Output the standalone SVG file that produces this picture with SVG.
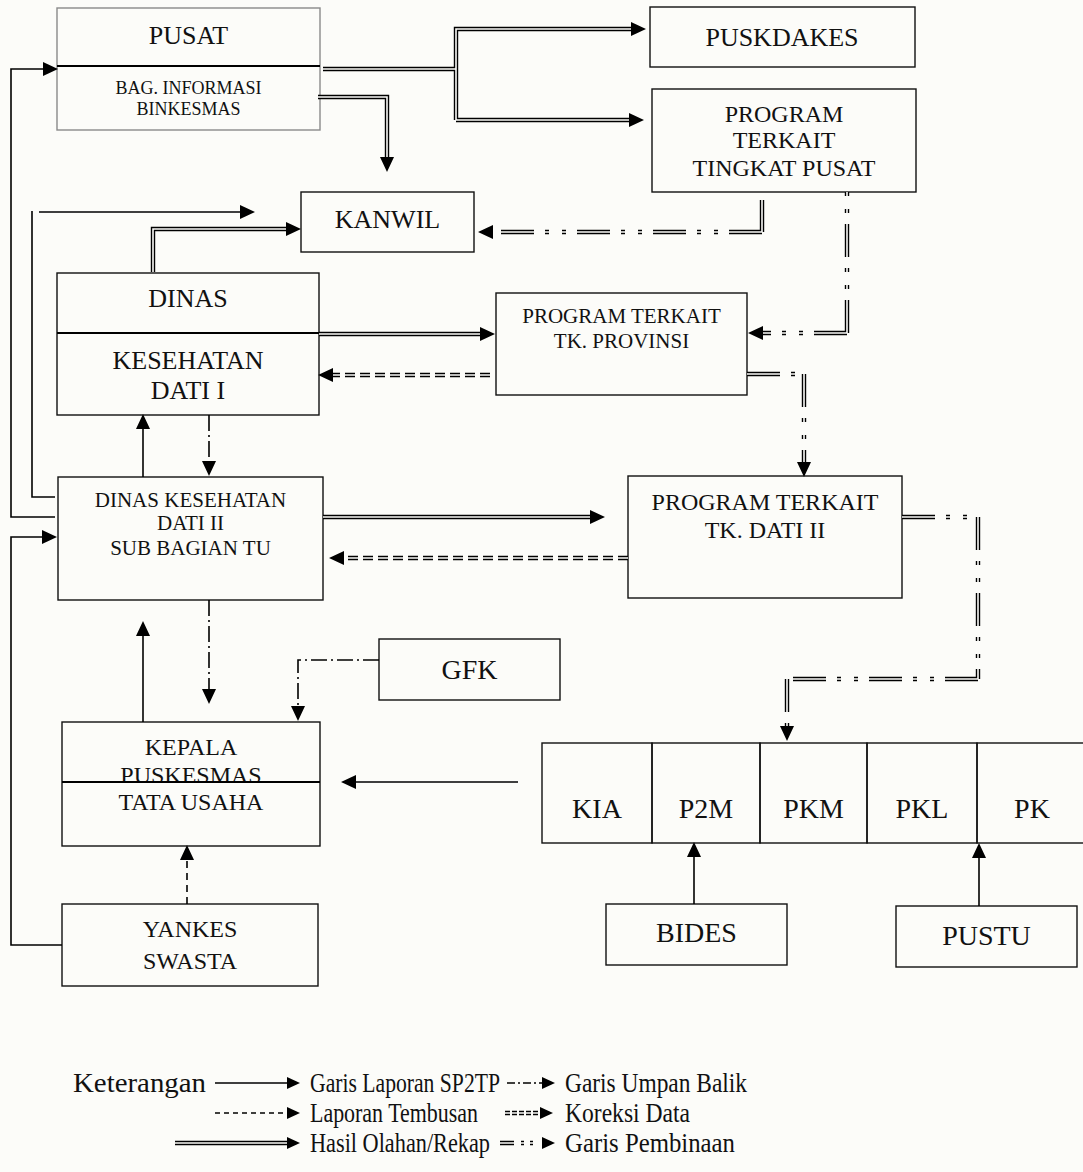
<svg xmlns="http://www.w3.org/2000/svg" width="1083" height="1172" viewBox="0 0 1083 1172">
<defs>
<style>
.bg{fill:#fcfcf9}
.box{fill:none;stroke:#111;stroke-width:1.4}
.gbox{fill:none;stroke:#8a8a8a;stroke-width:1.4}
.div{stroke:#000;stroke-width:1.8}
.t{font-family:"Liberation Serif","Times New Roman",serif;fill:#111;text-anchor:middle}
.lt{font-family:"Liberation Serif","Times New Roman",serif;fill:#111;font-size:27px}
.s{fill:none;stroke:#000;stroke-width:1.6}
.dd{fill:none;stroke:#000;stroke-width:1.6;stroke-dasharray:16 4 2 4}
.ds{fill:none;stroke:#000;stroke-width:1.6;stroke-dasharray:7 5}
.o{fill:none;stroke:#000;stroke-width:4.4;stroke-linejoin:miter}
.i{fill:none;stroke:#fcfcf9;stroke-width:1.6;stroke-linejoin:miter}
.kd{stroke-dasharray:10 5}
.pb{stroke-dasharray:33 11 4 13 4 11}
</style>
<marker id="ah" markerUnits="userSpaceOnUse" markerWidth="15" markerHeight="14" refX="0" refY="7" orient="auto" viewBox="0 0 15 14">
<path d="M0,0 L15,7 L0,14 z" fill="#000"/>
</marker>
<marker id="ahs" markerUnits="userSpaceOnUse" markerWidth="13" markerHeight="12" refX="0" refY="6" orient="auto" viewBox="0 0 13 12">
<path d="M0,0 L13,6 L0,12 z" fill="#000"/>
</marker>
</defs>
<rect class="bg" x="0" y="0" width="1083" height="1172"/>

<g id="pusat">
<rect class="gbox" x="57" y="8" width="263" height="122"/>
<line class="div" x1="57" y1="66" x2="320" y2="66"/>
<text class="t" x="188.5" y="44" font-size="26">PUSAT</text>
<text class="t" x="188.5" y="94" font-size="18">BAG. INFORMASI</text>
<text class="t" x="188.5" y="115" font-size="18">BINKESMAS</text>
</g>
<g id="puskdakes">
<rect class="box" x="650" y="7" width="265" height="60"/>
<text class="t" x="782" y="46" font-size="26">PUSKDAKES</text>
</g>
<g id="program-pusat">
<rect class="box" x="652" y="89" width="264" height="103"/>
<text class="t" x="784" y="122" font-size="24">PROGRAM</text>
<text class="t" x="784" y="148" font-size="24">TERKAIT</text>
<text class="t" x="784" y="176" font-size="24">TINGKAT PUSAT</text>
</g>
<g id="kanwil">
<rect class="box" x="301" y="192" width="173" height="60"/>
<text class="t" x="387.5" y="228" font-size="26">KANWIL</text>
</g>
<g id="dinas-dati1">
<rect class="box" x="57" y="273" width="262" height="142"/>
<line class="div" x1="57" y1="333" x2="319" y2="333"/>
<text class="t" x="188" y="307" font-size="26">DINAS</text>
<text class="t" x="188" y="369" font-size="26">KESEHATAN</text>
<text class="t" x="188" y="399" font-size="26">DATI I</text>
</g>
<g id="program-provinsi">
<rect class="box" x="496" y="293" width="251" height="102"/>
<text class="t" x="621.5" y="323" font-size="21">PROGRAM TERKAIT</text>
<text class="t" x="621.5" y="348" font-size="21">TK. PROVINSI</text>
</g>
<g id="dinas-dati2">
<rect class="box" x="58" y="477" width="265" height="123"/>
<text class="t" x="190.5" y="507" font-size="21">DINAS KESEHATAN</text>
<text class="t" x="190.5" y="530" font-size="21">DATI II</text>
<text class="t" x="190.5" y="555" font-size="21">SUB BAGIAN TU</text>
</g>
<g id="program-dati2">
<rect class="box" x="628" y="476" width="274" height="122"/>
<text class="t" x="765" y="510" font-size="24">PROGRAM TERKAIT</text>
<text class="t" x="765" y="538" font-size="24">TK. DATI II</text>
</g>
<g id="gfk">
<rect class="box" x="379" y="639" width="181" height="61"/>
<text class="t" x="469.5" y="679" font-size="28">GFK</text>
</g>
<g id="kepala-puskesmas">
<rect class="box" x="62" y="722" width="258" height="124"/>
<text class="t" x="191" y="755" font-size="24">KEPALA</text>
<text class="t" x="191" y="783" font-size="24">PUSKESMAS</text>
<line class="div" x1="62" y1="782" x2="320" y2="782"/>
<text class="t" x="191" y="810" font-size="24">TATA USAHA</text>
</g>
<g id="yankes-swasta">
<rect class="box" x="62" y="904" width="256" height="82"/>
<text class="t" x="190" y="937" font-size="24">YANKES</text>
<text class="t" x="190" y="969" font-size="24">SWASTA</text>
</g>
<g id="kia">
<rect class="box" x="542" y="743" width="110" height="100"/>
<text class="t" x="597" y="818" font-size="28">KIA</text>
</g>
<g id="p2m">
<rect class="box" x="652" y="743" width="108" height="100"/>
<text class="t" x="706" y="818" font-size="28">P2M</text>
</g>
<g id="pkm">
<rect class="box" x="760" y="743" width="107" height="100"/>
<text class="t" x="813.5" y="818" font-size="28">PKM</text>
</g>
<g id="pkl">
<rect class="box" x="867" y="743" width="110" height="100"/>
<text class="t" x="922" y="818" font-size="28">PKL</text>
</g>
<g id="pk">
<rect class="box" x="977" y="743" width="115" height="100"/>
<text class="t" x="1032" y="818" font-size="28">PK</text>
</g>
<g id="bides">
<rect class="box" x="606" y="904" width="181" height="61"/>
<text class="t" x="696.5" y="942" font-size="28">BIDES</text>
</g>
<g id="pustu">
<rect class="box" x="896" y="906" width="181" height="61"/>
<text class="t" x="986.5" y="945" font-size="28">PUSTU</text>
</g>

<g id="connectors">
<path class="s" d="M55 517 H11 V69 H43" marker-end="url(#ah)"/>
<path class="s" d="M55 497 H32 V211"/>
<path class="s" d="M39 212 H240" marker-end="url(#ah)"/>
<path class="s" d="M62 945 H11 V537 H42" marker-end="url(#ah)"/>
<path class="s" d="M143 477 V429" marker-end="url(#ah)"/>
<path class="s" d="M143 722 V636" marker-end="url(#ah)"/>
<path class="s" d="M518 782 H356" marker-end="url(#ah)"/>
<path class="s" d="M694 904 V857" marker-end="url(#ah)"/>
<path class="s" d="M979 906 V858" marker-end="url(#ah)"/>
<path class="dd" d="M209 415 V461" marker-end="url(#ah)"/>
<path class="dd" d="M209 600 V689" marker-end="url(#ah)"/>
<path class="dd" d="M379 660 H298 V706" marker-end="url(#ah)"/>
<path class="ds" d="M187 904 V860" marker-end="url(#ah)"/>
<path class="o" d="M323 69 H456"/>
<path class="o" d="M456 120 V29 H631" marker-end="url(#ah)"/>
<path class="o" d="M456 120 H629" marker-end="url(#ah)"/>
<path class="o" d="M318 97 H387 V157" marker-end="url(#ah)"/>
<path class="o" d="M153 272 V229 H286" marker-end="url(#ah)"/>
<path class="o" d="M319 334 H480" marker-end="url(#ah)"/>
<path class="o" d="M323 517 H590" marker-end="url(#ah)"/>
<path class="o kd" d="M490 375 H333" marker-end="url(#ah)"/>
<path class="o kd" d="M628 558 H344" marker-end="url(#ah)"/>
<path class="o" d="M762 200 V232"/>
<path class="o pb" d="M762 232 H493" marker-end="url(#ah)"/>
<path class="o pb" d="M847 333 V192"/>
<path class="o pb" d="M847 333 H763" marker-end="url(#ah)"/>
<path class="o pb" d="M747 374 H804"/>
<path class="o pb" d="M804 374 V462" marker-end="url(#ah)"/>
<path class="o pb" d="M902 517 H978"/>
<path class="o pb" d="M978 517 V679"/>
<path class="o pb" d="M978 679 H787"/>
<path class="o pb" d="M787 679 V726" marker-end="url(#ah)"/>
<path class="i" d="M323 69 H456"/>
<path class="i" d="M456 120 V29 H631"/>
<path class="i" d="M456 120 H629"/>
<path class="i" d="M318 97 H387 V157"/>
<path class="i" d="M153 272 V229 H286"/>
<path class="i" d="M319 334 H480"/>
<path class="i" d="M323 517 H590"/>
<path class="i kd" d="M490 375 H333"/>
<path class="i kd" d="M628 558 H344"/>
<path class="i" d="M762 200 V232"/>
<path class="i pb" d="M762 232 H493"/>
<path class="i pb" d="M847 333 V192"/>
<path class="i pb" d="M847 333 H763"/>
<path class="i pb" d="M747 374 H804"/>
<path class="i pb" d="M804 374 V462"/>
<path class="i pb" d="M902 517 H978"/>
<path class="i pb" d="M978 517 V679"/>
<path class="i pb" d="M978 679 H787"/>
<path class="i pb" d="M787 679 V726"/>
</g>

<g id="legend">
<text class="lt" x="73" y="1092" textLength="133" lengthAdjust="spacingAndGlyphs">Keterangan</text>
<path class="s" d="M215 1083 H287" marker-end="url(#ahs)"/>
<text class="lt" x="310" y="1092" textLength="190" lengthAdjust="spacingAndGlyphs">Garis Laporan SP2TP</text>
<path class="s" d="M507 1083 H542" stroke-dasharray="8 3 2 3" marker-end="url(#ahs)"/>
<text class="lt" x="565" y="1092" textLength="182" lengthAdjust="spacingAndGlyphs">Garis Umpan Balik</text>
<path class="s" d="M215 1113 H287" stroke-dasharray="5 4" marker-end="url(#ahs)"/>
<text class="lt" x="310" y="1122" textLength="168" lengthAdjust="spacingAndGlyphs">Laporan Tembusan</text>
<path class="o" d="M505 1113 H540" stroke-dasharray="5 2" marker-end="url(#ahs)"/>
<path class="i" d="M505 1113 H540" stroke-dasharray="5 2"/>
<text class="lt" x="565" y="1122" textLength="125" lengthAdjust="spacingAndGlyphs">Koreksi Data</text>
<path class="o" d="M175 1143 H287" marker-end="url(#ahs)"/>
<path class="i" d="M175 1143 H287"/>
<text class="lt" x="310" y="1152" textLength="180" lengthAdjust="spacingAndGlyphs">Hasil Olahan/Rekap</text>
<path class="o" d="M500 1143 H542" stroke-dasharray="14 7 3 6 3 9"/>
<path class="i" d="M500 1143 H542" stroke-dasharray="14 7 3 6 3 9"/>
<path d="M542 1137 L555 1143 L542 1149 z" fill="#000"/>
<text class="lt" x="565" y="1152" textLength="170" lengthAdjust="spacingAndGlyphs">Garis Pembinaan</text>
</g>
</svg>
